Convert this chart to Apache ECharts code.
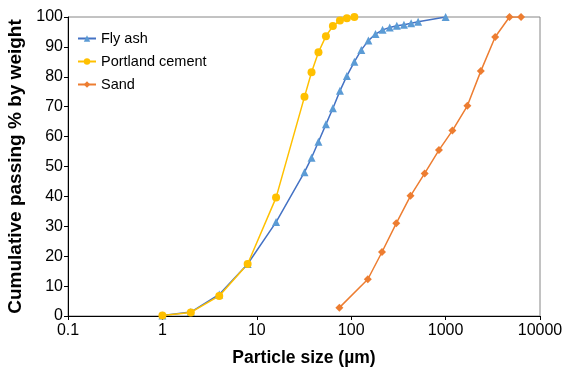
<!DOCTYPE html>
<html>
<head>
<meta charset="utf-8">
<script src="https://cdn.jsdelivr.net/npm/echarts@6/dist/echarts.min.js"></script>
<style>
    html, body {margin: 0; padding: 0; background: #fff;}
    #chart {width: 569px; height: 369px;}
</style>
</head>
<body>
<div id="chart"></div>
<script>
const flyAshSize = [1, 2, 4, 8, 16, 32, 38, 45, 54, 64, 76, 90, 108, 128, 152, 181, 215, 256, 304, 362, 431, 512, 1000];
const flyAshPassing = [0.2, 1.3, 7.2, 17.4, 31.4, 48.1, 52.9, 58.3, 64.1, 69.5, 75.3, 80.3, 85, 89, 92.1, 94.3, 95.7, 96.5, 97.1, 97.4, 97.9, 98.4, 100];

const cementSize = [1, 2, 4, 8, 16, 32, 38, 45, 54, 64, 76, 90, 108];
const cementPassing = [0.2, 1.2, 6.7, 17.4, 39.6, 73.3, 81.5, 88.2, 93.6, 97, 98.8, 99.6, 100];

const sandSize = [75, 150, 212, 300, 425, 600, 850, 1180, 1700, 2360, 3350, 4750, 6300];
const sandPassing = [2.8, 12.3, 21.4, 31, 40.2, 47.7, 55.5, 62, 70.3, 81.9, 93.3, 100, 100];

const pairs = (xs, ys) => xs.map((x, i) => [x, ys[i]]);

const chart = echarts.init(document.getElementById('chart'));
const font = 'Liberation Sans, Arial, sans-serif';

chart.setOption({
    animation: false,
    textStyle: {fontFamily: font},
    grid: {
        left: 68, right: 29, top: 17, bottom: 53,
        outerBoundsMode: 'none', containLabel: false,
        show: true, borderColor: '#868686', borderWidth: 1
    },
    legend: {
        left: 72, top: 26, orient: 'vertical', itemGap: 8,
        itemWidth: 18, itemHeight: 8,
        textStyle: {fontSize: 14.5, color: '#000', fontFamily: font},
        data: ['Fly ash', 'Portland cement', 'Sand']
    },
    xAxis: {
        type: 'log', logBase: 10, min: 0.1, max: 10000,
        name: 'Particle size (µm)', nameLocation: 'middle', nameGap: 33,
        nameTextStyle: {fontSize: 17.5, fontWeight: 'bold', color: '#000'},
        axisLine: {lineStyle: {color: '#000'}},
        axisTick: {inside: false, length: 4, lineStyle: {color: '#000'}},
        minorTick: {show: false},
        splitLine: {show: false},
        axisLabel: {fontSize: 16, color: '#000', margin: 7,
            formatter: v => String(v)}
    },
    yAxis: {
        type: 'value', min: 0, max: 100, interval: 10,
        name: 'Cumulative passing % by weight', nameLocation: 'middle', nameGap: 39,
        nameTextStyle: {fontSize: 19, fontWeight: 'bold', color: '#000'},
        axisLine: {show: true, lineStyle: {color: '#000'}},
        axisTick: {show: true, length: 4, lineStyle: {color: '#000'}},
        splitLine: {show: false},
        axisLabel: {fontSize: 16, color: '#000', margin: 5}
    },
    series: [
        {
            name: 'Fly ash', type: 'line', data: pairs(flyAshSize, flyAshPassing),
            symbol: 'triangle', symbolSize: 8,
            lineStyle: {color: '#4472C4', width: 1.5},
            itemStyle: {color: '#5B9BD5'}
        },
        {
            name: 'Portland cement', type: 'line', data: pairs(cementSize, cementPassing),
            symbol: 'circle', symbolSize: 8,
            lineStyle: {color: '#FFC000', width: 1.5},
            itemStyle: {color: '#FFC000'}
        },
        {
            name: 'Sand', type: 'line', data: pairs(sandSize, sandPassing),
            symbol: 'diamond', symbolSize: 8,
            lineStyle: {color: '#ED7D31', width: 1.5},
            itemStyle: {color: '#ED7D31'}
        }
    ]
});
</script>
</body>
</html>
